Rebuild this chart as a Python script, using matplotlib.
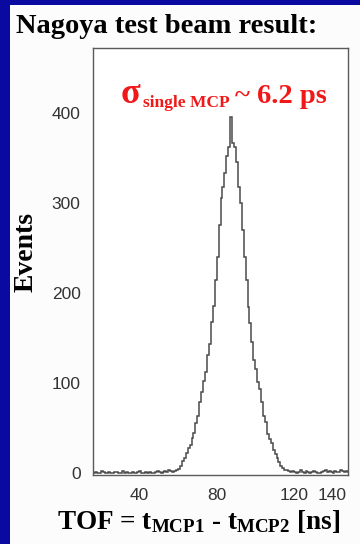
"""Nagoya test beam TOF histogram"""
import numpy as np
import matplotlib

matplotlib.use("Agg")
import matplotlib.pyplot as plt
from matplotlib.patches import Rectangle

# bin edges (ns) and event counts
bin_start = 16
bin_stop = 148
counts_low = [0, 1, 0, 0, 2, 1, 0, 0, 1, 0,
              0, 1, 1, 0, 0, 2, 0, 1, 0, 0,
              1, 0, 0, 1, 2, 0, 0, 1, 0, 1,
              0, 0, 1, 2, 1, 0, 1, 2, 1, 3,
              2, 1]
counts_peak = [2, 3, 5, 8, 13, 17, 22, 28, 31, 39,
               45, 56, 64, 79, 90, 102, 112, 131, 143, 168,
               186, 214, 240, 275, 305, 318, 333, 352, 362, 395,
               366, 362, 345, 318, 300, 270, 240, 215, 184, 167,
               146, 126, 116, 101, 93, 79, 64, 57, 44, 38,
               33, 26, 21, 17, 12, 8, 6, 4, 3, 2]
counts_high = [1, 2, 1, 0, 1, 3, 1, 0, 2, 1,
               0, 1, 2, 1, 0, 0, 1, 2, 3, 1,
               2, 1, 0, 2, 1, 1, 3, 2, 1, 2]

x_ticks = [40, 80, 120, 140]
y_ticks = [0, 100, 200, 300, 400]

BLUE = "#0a0aa0"
RED = "#f01818"


def main():
    plt.rcParams["mathtext.fontset"] = "custom"
    plt.rcParams["mathtext.rm"] = "Liberation Serif:bold"
    plt.rcParams["mathtext.it"] = "Liberation Serif:bold"
    plt.rcParams["mathtext.bf"] = "Liberation Serif:bold"

    W, H = 360, 544
    fig = plt.figure(figsize=(W / 100, H / 100), dpi=100)
    fig.patch.set_facecolor(BLUE)
    # white slide panel behind everything
    panel = Rectangle((10 / W, 0), 1, 1 - 5 / H, transform=fig.transFigure,
                      facecolor="#fcfcfc", edgecolor="none", zorder=-10)
    fig.add_artist(panel)

    ax = fig.add_axes([93 / W, (H - 475) / H, 255 / W, (475 - 48) / H])
    ax.set_zorder(2)
    ax.set_facecolor("white")

    counts = counts_low + counts_peak + counts_high
    edges = np.arange(bin_start, bin_stop + 1, 1)
    ax.stairs(counts, edges, color="#4a4a4a", lw=1.1)

    ax.set_xlim(bin_start, bin_stop)
    ax.set_ylim(-2, 472)
    ax.set_xticks(x_ticks)
    ax.set_yticks(y_ticks)
    ax.tick_params(length=0, labelsize=12.5, labelcolor="#333333")
    ax.tick_params(axis="y", pad=9)
    ax.tick_params(axis="x", pad=9)
    for lab in ax.get_xticklabels() + ax.get_yticklabels():
        lab.set_family("Liberation Sans")
    for spine in ax.spines.values():
        spine.set_color("#5a5a5a")
        spine.set_linewidth(1.0)

    serif = dict(family="Liberation Serif", fontweight="bold", zorder=5)
    fig.text(16 / W, 1 - 33 / H, "Nagoya test beam result:", fontsize=20.5,
             color="black", va="baseline", ha="left", **serif)

    # sigma annotation, built from three pieces
    fig.text(121 / W, 1 - 103 / H, "σ", fontsize=26, color=RED,
             va="baseline", ha="left", **serif)
    fig.text(143 / W, 1 - 107 / H, "single MCP", fontsize=12.5, color=RED,
             va="baseline", ha="left", **serif)
    fig.text(235 / W, 1 - 103 / H, "~ 6.2 ps", fontsize=20.5, color=RED,
             va="baseline", ha="left", **serif)

    fig.text(199 / W, 1 - 529 / H, r"TOF = t$_{\mathrm{MCP1}}$ - t$_{\mathrm{MCP2}}$ [ns]",
             fontsize=19.5, color="black", va="baseline", ha="center", **serif)
    fig.text(26 / W, 1 - 252 / H, "Events", fontsize=20, color="black",
             rotation=90, va="center", ha="center", **serif)

    fig.savefig("out.png", dpi=100, facecolor=fig.get_facecolor())
    plt.close(fig)


if __name__ == "__main__":
    main()
